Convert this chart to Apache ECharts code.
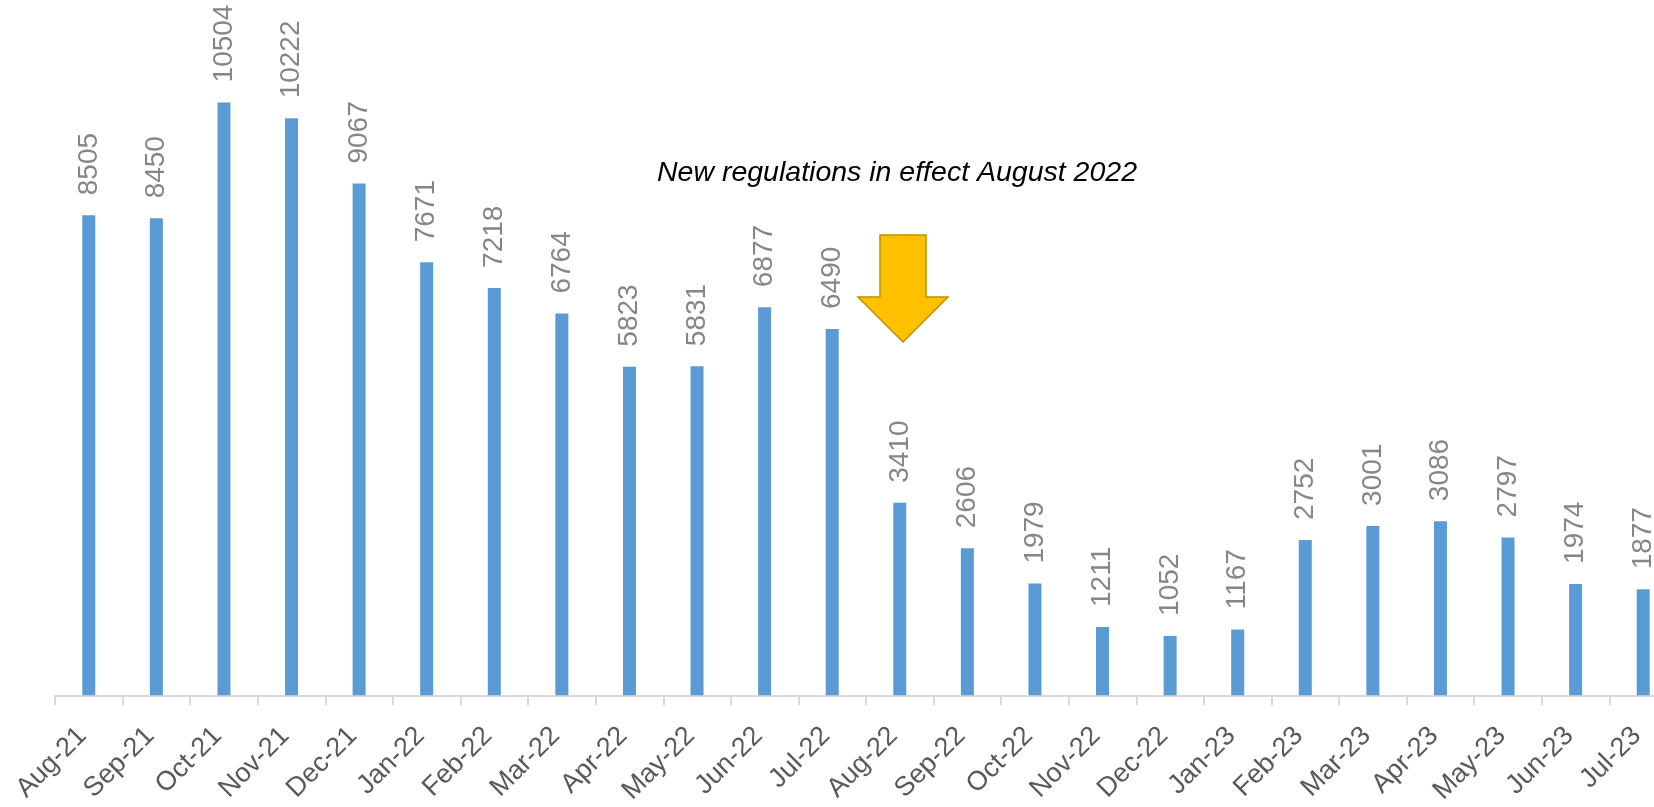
<!DOCTYPE html>
<html>
<head>
<meta charset="utf-8">
<script src="https://cdn.jsdelivr.net/npm/echarts@6/dist/echarts.min.js"></script>
<style>
  html, body { margin: 0; padding: 0; background: #fff; overflow: hidden; }
  /* chart runs past the right edge of the window, like the cropped original */
  #chart { width: 1680px; height: 807px; }
</style>
</head>
<body>
<div id="chart"></div>
<script>
// monthly counts, Aug 2021 - Jul 2023
const months = ['Aug-21', 'Sep-21', 'Oct-21', 'Nov-21', 'Dec-21', 'Jan-22', 'Feb-22', 'Mar-22',
  'Apr-22', 'May-22', 'Jun-22', 'Jul-22', 'Aug-22', 'Sep-22', 'Oct-22', 'Nov-22', 'Dec-22',
  'Jan-23', 'Feb-23', 'Mar-23', 'Apr-23', 'May-23', 'Jun-23', 'Jul-23']
const counts = [8505, 8450, 10504, 10222, 9067, 7671, 7218, 6764, 5823, 5831, 6877, 6490,
  3410, 2606, 1979, 1211, 1052, 1167, 2752, 3001, 3086, 2797, 1974, 1877]
const note = 'New regulations in effect August 2022'

const myChart = echarts.init(document.getElementById('chart'))

myChart.setOption({
  animation: false,
  grid: { left: 55, top: 18, width: 1622, height: 679 },
  xAxis: {
    type: 'category',
    data: months,
    axisLine: { lineStyle: { color: '#D9D9D9', width: 2 } },
    axisTick: { show: true, length: 10, lineStyle: { color: '#D9D9D9', width: 2 } },
    axisLabel: {
      rotate: 45,
      interval: 0,
      margin: 30,
      padding: [0, 9, 0, 0],
      color: '#595959',
      fontSize: 27,
      fontFamily: 'Liberation Sans'
    }
  },
  yAxis: {
    type: 'value',
    min: 0,
    max: 12000,
    show: false
  },
  series: [
    {
      type: 'bar',
      data: counts,
      barWidth: 13,
      itemStyle: { color: '#5B9BD5' },
      label: {
        show: true,
        position: 'top',
        rotate: 90,
        align: 'left',
        verticalAlign: 'middle',
        distance: 20,
        color: '#868686',
        fontSize: 28,
        fontFamily: 'Liberation Sans'
      }
    }
  ],
  // annotation: note text + down arrow over Aug-22
  graphic: [
    {
      type: 'text',
      style: {
        x: 897,
        y: 188,
        text: note,
        fill: '#000',
        font: 'italic 28.5px "Liberation Sans"',
        align: 'center',
        verticalAlign: 'bottom'
      }
    },
    {
      type: 'polygon',
      shape: {
        points: [[880, 235], [926, 235], [926, 297], [948, 297], [903, 342], [858, 297], [880, 297]]
      },
      style: { fill: '#FFC000', stroke: '#BF9000', lineWidth: 1.5 }
    }
  ]
})
</script>
</body>
</html>
